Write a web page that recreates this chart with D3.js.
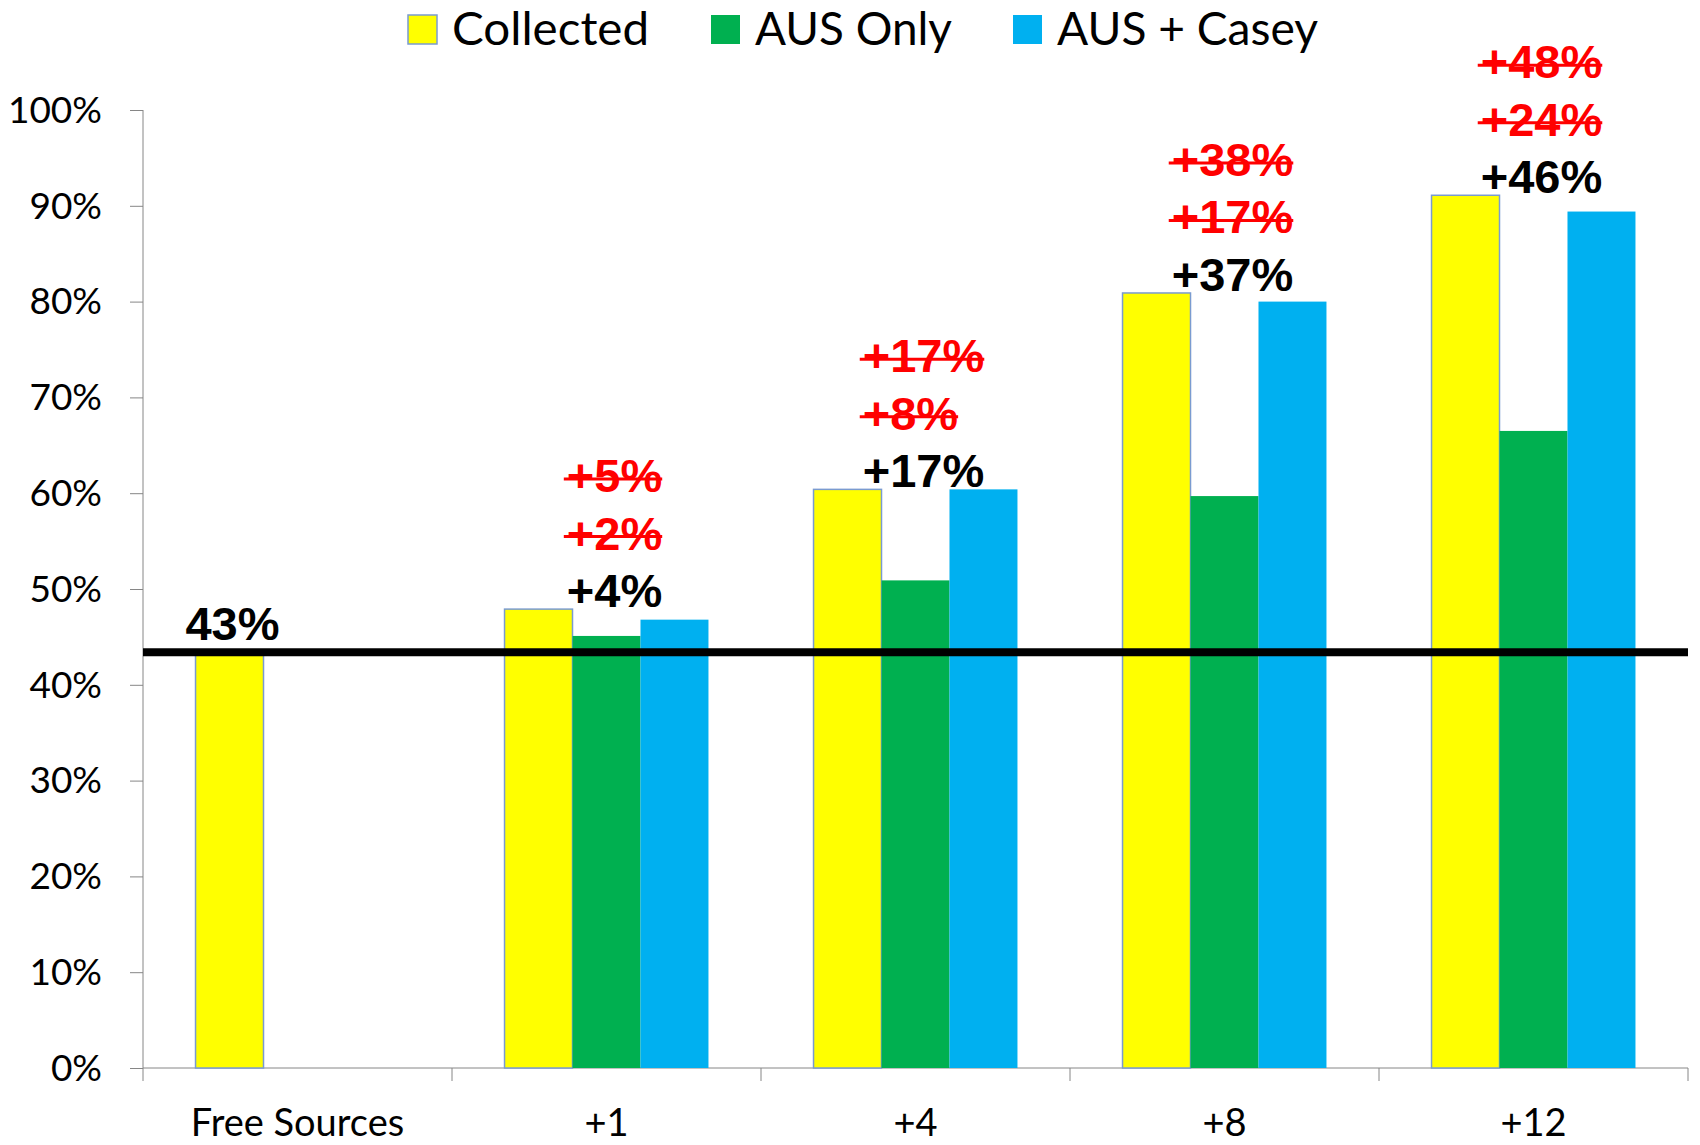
<!DOCTYPE html>
<html>
<head>
<meta charset="utf-8">
<script src="https://cdn.jsdelivr.net/npm/d3@7"></script>
<style>
	body { margin: 0; background: #fff; }
	svg { display: block; }
</style>
</head>
<body>
<svg class="chart" width="1700" height="1145"></svg>
<script>
var categories = ["Free Sources", "+1", "+4", "+8", "+12"],
	seriesNames = ["Collected", "AUS Only", "AUS + Casey"],
	collected = [43.4, 47.9, 60.4, 80.9, 91.1],
	ausOnly = [null, 45.1, 50.9, 59.7, 66.5],
	ausCasey = [null, 46.8, 60.4, 80.0, 89.4],
	gainLabels = ["43%", "+4%", "+17%", "+37%", "+46%"],
	struckAus = [null, "+2%", "+8%", "+17%", "+24%"],
	struckCasey = [null, "+5%", "+17%", "+38%", "+48%"],
	yTicks = [0, 10, 20, 30, 40, 50, 60, 70, 80, 90, 100];

var colors = ["#ffff00", "#00b050", "#00b0f0"],
	axiscolor = "#868686",
	tickFont = "Lato, 'Open Sans', sans-serif",
	labelFont = "'Liberation Sans', Arial, sans-serif";

var svg = d3.select(".chart"),
	margin = {
		top: 110,
		right: 12,
		bottom: 77,
		left: 143
	},
	width = +svg.attr("width") - margin.left - margin.right,
	height = +svg.attr("height") - margin.top - margin.bottom,
	g = svg.append("g").attr("transform", "translate(" + margin.left + "," + margin.top + ")");

var x0 = d3.scaleBand()
	.domain(categories)
	.range([0, width])
	.padding(0);
var groupW = x0.bandwidth() * 0.66;
var x1 = d3.scaleBand()
	.domain(seriesNames)
	.range([(x0.bandwidth() - groupW) / 2, (x0.bandwidth() + groupW) / 2]);
var y = d3.scaleLinear()
	.domain([0, 100])
	.range([height, 0]);

// y axis
var left = g.append("g")
	.call(d3.axisLeft(y).tickValues(yTicks).tickSize(13).tickPadding(28)
		.tickFormat(function(d) { return d + "%"; }));
left.selectAll("line").style("stroke", axiscolor);
left.select(".domain").style("stroke", axiscolor).attr("d", "M0,0V" + height);
left.selectAll("text")
	.style("fill", "#000")
	.style("font-family", tickFont)
	.style("font-size", "37px")
	.attr("dy", "0.33em");

// x axis: line at bottom, ticks at category boundaries
var bot = g.append("g")
	.attr("transform", "translate(0," + height + ")")
	.call(d3.axisBottom(x0).tickSize(0).tickPadding(41));
bot.select(".domain").style("stroke", axiscolor).attr("d", "M0,0H" + width);
bot.selectAll("text")
	.style("fill", "#000")
	.style("font-family", tickFont)
	.style("font-size", "38px");
bot.selectAll(".edge")
	.data(categories.map(function(c) { return x0(c); }).concat([width]))
	.enter().append("line")
	.attr("x1", function(d) { return d; })
	.attr("x2", function(d) { return d; })
	.attr("y1", 0)
	.attr("y2", 13)
	.style("stroke", axiscolor);

// bars
var rows = categories.map(function(c, i) {
	return { cat: c, values: [collected[i], ausOnly[i], ausCasey[i]] };
});
var groups = g.selectAll(".grp")
	.data(rows)
	.enter().append("g")
	.attr("transform", function(d) { return "translate(" + x0(d.cat) + ",0)"; });
groups.selectAll("rect")
	.data(function(d) {
		return d.values.map(function(v, k) { return { key: seriesNames[k], k: k, v: v }; })
			.filter(function(e) { return e.v != null; });
	})
	.enter().append("rect")
	.attr("x", function(d) { return x1(d.key); })
	.attr("width", x1.bandwidth())
	.attr("y", function(d) { return y(d.v); })
	.attr("height", function(d) { return height - y(d.v); })
	.attr("fill", function(d) { return colors[d.k]; })
	.attr("stroke", function(d) { return d.k == 0 ? "#7a9bd0" : "none"; })
	.attr("stroke-width", 1.5);

// baseline at free sources level
g.append("line")
	.attr("x1", 0)
	.attr("x2", width)
	.attr("y1", y(collected[0]))
	.attr("y2", y(collected[0]))
	.attr("stroke", "#000")
	.attr("stroke-width", 8);

// labels
function label(txt, lx, by, color, strike, anchor) {
	var t = g.append("text")
		.attr("x", lx)
		.attr("y", by)
		.attr("text-anchor", anchor || "start")
		.style("font-family", labelFont)
		.style("font-weight", "bold")
		.style("font-size", "47px")
		.style("fill", color)
		.text(txt);
	var w = t.node().getComputedTextLength();
	if (strike) {
		g.append("line")
			.attr("x1", lx - 3)
			.attr("x2", lx + w)
			.attr("y1", by - 13)
			.attr("y2", by - 13)
			.attr("stroke", color)
			.attr("stroke-width", 3);
	}
	return t;
}
categories.forEach(function(c, i) {
	if (i == 0) {
		label(gainLabels[i], x0(c) + x1("Collected") + x1.bandwidth() / 2 + 3,
			y(collected[0]) - 12, "#000", false, "middle");
		return;
	}
	var cx = x0(c) + x0.bandwidth() / 2 + 8,
		by = y(collected[i]) - 2;
	var black = label(gainLabels[i], cx, by, "#000", false, "middle");
	var lx = cx - black.node().getComputedTextLength() / 2;
	label(struckAus[i], lx, by - 57.5, "#ff0000", true);
	label(struckCasey[i], lx, by - 115, "#ff0000", true);
});

// legend
var legendX = [408, 711, 1013],
	legendW = [197, 197, 261];
var legend = svg.append("g");
seriesNames.forEach(function(s, k) {
	legend.append("rect")
		.attr("x", legendX[k])
		.attr("y", 15)
		.attr("width", 29)
		.attr("height", 29)
		.attr("fill", colors[k])
		.attr("stroke", k == 0 ? "#7a9bd0" : "none")
		.attr("stroke-width", 1.5);
	legend.append("text")
		.attr("x", legendX[k] + 44)
		.attr("y", 45)
		.attr("textLength", legendW[k])
		.attr("lengthAdjust", "spacingAndGlyphs")
		.style("font-family", tickFont)
		.style("font-size", "46px")
		.style("fill", "#000")
		.text(s);
});
</script>
</body>
</html>
